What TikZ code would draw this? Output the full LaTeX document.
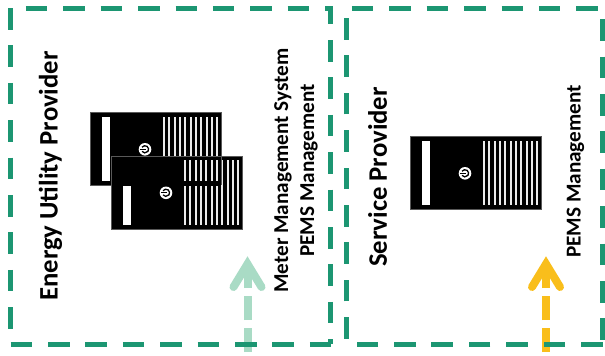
\documentclass[tikz,border=0pt]{standalone}
\usepackage{fontspec}
\setmainfont{Carlito}
\definecolor{boxgreen}{HTML}{1C9672}
\definecolor{lightgreen}{HTML}{A9DBC5}
\definecolor{amber}{HTML}{F9BE1B}
\tikzset{
  boxline/.style={draw=boxgreen,line width=5pt,dash pattern=on 21.5pt off 15.9pt,line cap=butt,line join=miter},
  flowshaft/.style={line width=8pt,dash pattern=on 24pt off 8pt,line cap=butt},
  flowhead/.style={line width=8pt,line cap=round,line join=miter,miter limit=10},
  label/.style={font=\bfseries,rotate=90,inner sep=0pt,anchor=center,align=center},
  bigtext/.style={label,font=\fontsize{26.7pt}{30pt}\bfseries},
  smalltext/.style={label,font=\fontsize{21.2pt}{26pt}\bfseries},
  case/.style={fill=black,draw=black!65,line width=.6pt},
  stripe/.style={fill=white!92!black,draw=none},
}
\newcommand{\powericon}[2]{%
  \fill[white] (#1,#2) circle (6.3pt);
  \draw[black,line width=1.3pt] (#1,#2) ++(145:3.6pt) arc (145:-145:3.6pt);
  \draw[black,line width=1.2pt] (#1-4.8,#2) -- (#1+.6,#2);
}
\newcommand{\stripes}[3]{% x0, top, bottom
  \foreach \k in {0,...,10}{\fill[stripe] ({#1+5.33*\k},#2) rectangle ({#1+5.33*\k+1.9},#3);}%
}
\begin{document}
\begin{tikzpicture}[x=1pt,y=-1pt]
\useasboundingbox (0,0) rectangle (605,356);
\fill[white] (0,0) rectangle (605,356);
% arrows
\coordinate (g0) at (247.5,352); \coordinate (g1) at (247.5,264);
\coordinate (y0) at (546,352);   \coordinate (y1) at (546,264);
\draw[lightgreen,flowshaft] (g0) -- (g1);
\draw[lightgreen,flowhead] (233.5,287) -- (g1) -- (261.5,287);
\draw[amber,flowshaft] (y0) -- (y1);
\draw[amber,flowhead] (532,287) -- (y1) -- (560,287);
% boxes
\draw[boxline] (10,8) -- (10,344) -- (330.5,344);
\draw[boxline,dash phase=21.5pt] (10,8) -- (330.5,8) -- (330.5,344);
\draw[boxline] (602.5,344) -- (346,344) -- (346,8) -- (602.5,8) -- (602.5,344);
% back server
\draw[case] (90.7,112.7) rectangle (221,185);
\fill[white] (101.7,116.7) rectangle (110,180.5);
\stripes{163}{116.7}{156.5}
\powericon{145}{149.3}
% front server
\draw[case] (111.7,156) rectangle (242.3,229.3);
\fill[white] (122.7,185.7) rectangle (131,224.7);
\stripes{184}{160}{181}
\stripes{184}{185.7}{224.7}
\foreach \k in {7,8,9,10}{\fill[stripe] ({184+5.33*\k},181) rectangle ({184+5.33*\k+1.9},185.7);}
\draw[black!65,line width=.6pt] (221,156) -- (221,185);
\powericon{166}{192.8}
% right server
\draw[case] (410.7,136.7) rectangle (541,209);
\fill[white] (421.7,140.7) rectangle (430,204.5);
\stripes{483}{140.7}{204.7}
\powericon{465}{173.3}
% labels
\node[bigtext] (eup) at (50.5,176) {Energy Utility Provider};
\node[bigtext] (sp) at (377.5,177) {Service Provider};
\node[smalltext] (mms) at (296,170.5) {Meter Management System\\PEMS Management};
\node[smalltext] (pems) at (575.5,171.5) {PEMS Management};
\end{tikzpicture}
\end{document}
